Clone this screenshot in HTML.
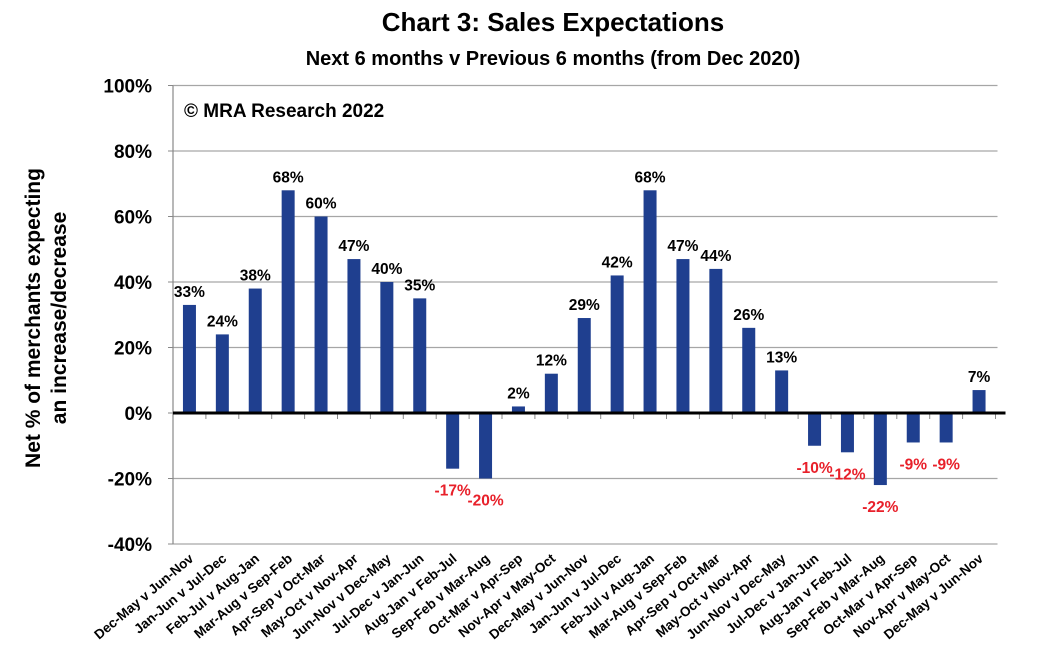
<!DOCTYPE html>
<html><head><meta charset="utf-8"><style>
body{margin:0;background:#fff;font-family:"Liberation Sans",Arial,sans-serif}
svg text{font-family:"Liberation Sans",Arial,sans-serif;font-weight:bold}
</style></head><body>
<svg id="chart" width="1037" height="650" viewBox="0 0 1037 650" xmlns="http://www.w3.org/2000/svg">
<text x="553" y="31" font-size="26" text-anchor="middle">Chart 3: Sales Expectations</text>
<text x="553" y="65" font-size="20" text-anchor="middle">Next 6 months v Previous 6 months (from Dec 2020)</text>
<text x="184" y="117" font-size="19">© MRA Research 2022</text>
<g transform="translate(40,318) rotate(-90)">
<text x="0" y="0" font-size="21" text-anchor="middle">Net % of merchants expecting</text>
<text x="0" y="26" font-size="21" text-anchor="middle">an increase/decrease</text>
</g>
<g id="grid"></g><g id="bars"></g><g id="labels"></g><g id="xlabels"></g>
</svg>
<script>
const categories=["Dec-May v Jun-Nov","Jan-Jun v Jul-Dec","Feb-Jul v Aug-Jan","Mar-Aug v Sep-Feb","Apr-Sep v Oct-Mar","May-Oct v Nov-Apr","Jun-Nov v Dec-May","Jul-Dec v Jan-Jun","Aug-Jan v Feb-Jul","Sep-Feb v Mar-Aug","Oct-Mar v Apr-Sep","Nov-Apr v May-Oct","Dec-May v Jun-Nov","Jan-Jun v Jul-Dec","Feb-Jul v Aug-Jan","Mar-Aug v Sep-Feb","Apr-Sep v Oct-Mar","May-Oct v Nov-Apr","Jun-Nov v Dec-May","Jul-Dec v Jan-Jun","Aug-Jan v Feb-Jul","Sep-Feb v Mar-Aug","Oct-Mar v Apr-Sep","Nov-Apr v May-Oct","Dec-May v Jun-Nov"];
const values=[33,24,38,68,60,47,40,35,-17,-20,2,12,29,42,68,47,44,26,13,-10,-12,-22,-9,-9,7];
const yTicks=[-40,-20,0,20,40,60,80,100];
const NS="http://www.w3.org/2000/svg";
const x0=173,band=32.9,y0=413,pxPer=65.5/20;
const xEnd=x0+band*categories.length;
function X(i){return x0+band*(i+0.5);}
function Y(v){return y0-v*pxPer;}
function mk(t,a,p){const e=document.createElementNS(NS,t);for(const k in a)e.setAttribute(k,a[k]);p.appendChild(e);return e;}
const grid=document.getElementById('grid'),bars=document.getElementById('bars'),labels=document.getElementById('labels'),xl=document.getElementById('xlabels');
yTicks.forEach(v=>{
  if(v!==0){const l=mk('line',{x1:x0,x2:xEnd+2,y1:Y(v),y2:Y(v),stroke:'#a6a6a6','stroke-width':1.2},grid);
  
  }
  const t=mk('text',{x:152,y:Y(v)+7,'font-size':19,'text-anchor':'end'},grid);
  t.textContent=v+'%';
  
  
  const tk=mk('line',{x1:x0-5,x2:x0,y1:Y(v),y2:Y(v),stroke:'#888'},grid);
  
  
});
const ya=mk('line',{x1:x0,x2:x0,y1:Y(100),y2:Y(-40),stroke:'#888','stroke-width':1.2},grid);


values.forEach((v,i)=>{
  const r=mk('rect',{x:X(i)-6.5,width:13,y:Math.min(Y(v),y0),height:Math.abs(Y(v)-y0),fill:'#1f3f8f'},bars);
  
  
  const t=mk('text',{x:X(i),y:v>=0?Y(v)-8:Y(v)+27,'font-size':15.5,'text-anchor':'middle',fill:v>=0?'#000':'#e8202a'},labels);
  t.textContent=v+'%';
  
  
  const tk=mk('line',{x1:x0+band*(i+1),x2:x0+band*(i+1),y1:y0,y2:y0+6,stroke:'#888'},grid);
  
  
  const c=mk('text',{transform:`translate(${X(i)+5},${y0+147}) rotate(-40)`,'font-size':13.5,'text-anchor':'end'},xl);
  c.textContent=categories[i];
  
  
});
const z=mk('line',{x1:x0,x2:xEnd+10,y1:y0,y2:y0,stroke:'#000','stroke-width':3},bars);


</script>
</body></html>
